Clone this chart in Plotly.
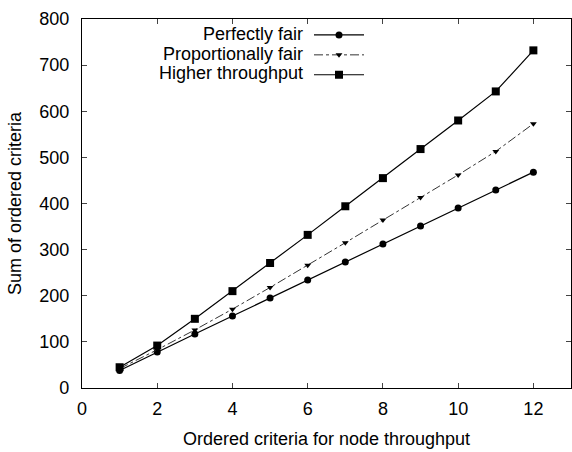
import plotly.graph_objects as go

x_vals = [1, 2, 3, 4, 5, 6, 7, 8, 9, 10, 11, 12]
perfectly_fair = [38, 78, 117, 156, 195, 234, 273, 312, 351, 390, 429, 468]
proportionally_fair = [42, 83, 126, 171, 218, 266, 315, 364, 413, 462, 513, 573]
higher_throughput = [45, 92, 150, 210, 271, 332, 394, 455, 518, 580, 643, 732]
series_names = ["Perfectly fair", "Proportionally fair", "Higher throughput"]
x_ticks = [0, 2, 4, 6, 8, 10, 12]
y_ticks = [0, 100, 200, 300, 400, 500, 600, 700, 800]

FONT = "Liberation Sans, Arial, sans-serif"

fig = go.Figure()
fig.add_trace(go.Scatter(x=x_vals, y=perfectly_fair, mode="lines+markers", name="\u200b",
                         line=dict(color="black", width=1.2),
                         marker=dict(symbol="circle", size=7, color="black")))
fig.add_trace(go.Scatter(x=x_vals, y=proportionally_fair, mode="lines+markers", name="\u200b ",
                         line=dict(color="#333333", width=1, dash="dashdot"),
                         marker=dict(symbol="triangle-down", size=6, color="black")))
fig.add_trace(go.Scatter(x=x_vals, y=higher_throughput, mode="lines+markers", name="\u200b  ",
                         line=dict(color="black", width=1.2),
                         marker=dict(symbol="square", size=8, color="black")))

for i, nm in enumerate(series_names):
    fig.add_annotation(text=nm, xref="paper", yref="paper",
                       x=(305 - 82) / 489, y=(388 - (34 + 19.5 * i)) / 369,
                       xanchor="right", yanchor="middle", showarrow=False,
                       font=dict(family=FONT, size=18, color="black"))

fig.update_layout(
    width=572, height=452,
    margin=dict(l=82, r=1, t=19, b=64),
    paper_bgcolor="white", plot_bgcolor="white",
    font=dict(family=FONT, color="black"),
    showlegend=True,
    legend=dict(x=(309 - 82) / 489, y=(388 - 20) / 369, xanchor="left", yanchor="top",
                bgcolor="rgba(0,0,0,0)", font=dict(size=13, family=FONT),
                tracegroupgap=0, itemwidth=50),
    xaxis=dict(range=[0, 13], tickvals=x_ticks, ticks="inside", ticklen=5,
               showline=True, linecolor="black", linewidth=1.2, mirror="ticks",
               showgrid=False, zeroline=False, tickfont=dict(size=18),
               ticklabelstandoff=4,
               title=dict(text="Ordered criteria for node throughput", font=dict(size=18), standoff=14)),
    yaxis=dict(range=[0, 800], tickvals=y_ticks, ticks="inside", ticklen=5,
               showline=True, linecolor="black", linewidth=1.2, mirror="ticks",
               showgrid=False, zeroline=False, tickfont=dict(size=18),
               ticklabelstandoff=8,
               title=dict(text="Sum of ordered criteria", font=dict(size=18), standoff=12)),
)

fig.write_html("out.html")
